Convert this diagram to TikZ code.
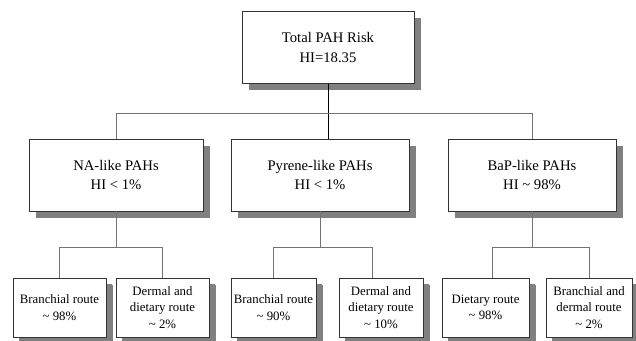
\documentclass[tikz,border=0pt]{standalone}
\usepackage{fontspec}
\setmainfont{Liberation Serif}
\usepackage{tikz}
\usetikzlibrary{shadows}

\tikzset{
  riskbox/.style={draw=black!80, line width=0.6pt, fill=white, inner sep=0pt, align=center,
    drop shadow={shadow xshift=5pt, shadow yshift=-5pt, fill=black!50, opacity=1}},
  bigbox/.style={riskbox, minimum height=54pt, font=\fontsize{11}{14.6}\selectfont},
  routebox/.style={riskbox, minimum height=44.25pt, font=\fontsize{9.6}{12.4}\selectfont,
    drop shadow={shadow xshift=4.5pt, shadow yshift=-4.5pt, fill=black!50, opacity=1}},
  link/.style={draw=black!55, line width=0.6pt}
}

\begin{document}
\begin{tikzpicture}[x=0.75pt,y=0.75pt,yscale=-1,xscale=1]
    \useasboundingbox (0,0) rectangle (636,341);

    %Top box
    \node (total) at (328,47.5) [bigbox, minimum width=129pt] {Total PAH Risk\\HI=18.35};

    %PAH group boxes
    \node (na)  at (116,175) [bigbox, minimum width=130.5pt] {NA-like PAHs\\HI < 1\%};
    \node (pyr) at (320,175) [bigbox, minimum width=133.5pt] {Pyrene-like PAHs\\HI < 1\%};
    \node (bap) at (532,175) [bigbox, minimum width=126pt] {BaP-like PAHs\\HI \textasciitilde{} 98\%};

    %Route boxes
    \node (nabr)  at (59.5,307.5)  [routebox, minimum width=69.75pt] {Branchial route\\\textasciitilde{} 98\%};
    \node (nader) at (162.5,307.5) [routebox, minimum width=69.75pt] {Dermal and\\dietary route\\\textasciitilde{} 2\%};
    \node (pybr)  at (273.5,307.5) [routebox, minimum width=63.75pt] {Branchial route\\\textasciitilde{} 90\%};
    \node (pyder) at (381,307.5)   [routebox, minimum width=63pt] {Dermal and\\dietary route\\\textasciitilde{} 10\%};
    \node (bapdi) at (485.5,307.5) [routebox, minimum width=65.25pt] {Dietary route\\\textasciitilde{} 98\%};
    \node (bapbr) at (589,307.5)   [routebox, minimum width=64.5pt] {Branchial and\\dermal route\\\textasciitilde{} 2\%};

    %Connectors, first level
    \draw (total.south) -- (total.south |- pyr.north);
    \draw [link] (na.north) -- ++(0,-25) -| (bap.north);

    %Connectors, second level
    \draw [link] (na.south) -- ++(0,36) coordinate (nafork);
    \draw [link] (nabr.north) |- (nafork) -| (nader.north);
    \draw [link] (pyr.south) -- ++(0,36) coordinate (pyfork);
    \draw [link] (pybr.north) |- (pyfork) -| ([xshift=-6.75pt]pyder.north);
    \draw [link] (bap.south) -- ++(0,36) coordinate (bapfork);
    \draw [link] ([xshift=4.9pt]bapdi.north) |- (bapfork) -| (bapbr.north);

\end{tikzpicture}
\end{document}
